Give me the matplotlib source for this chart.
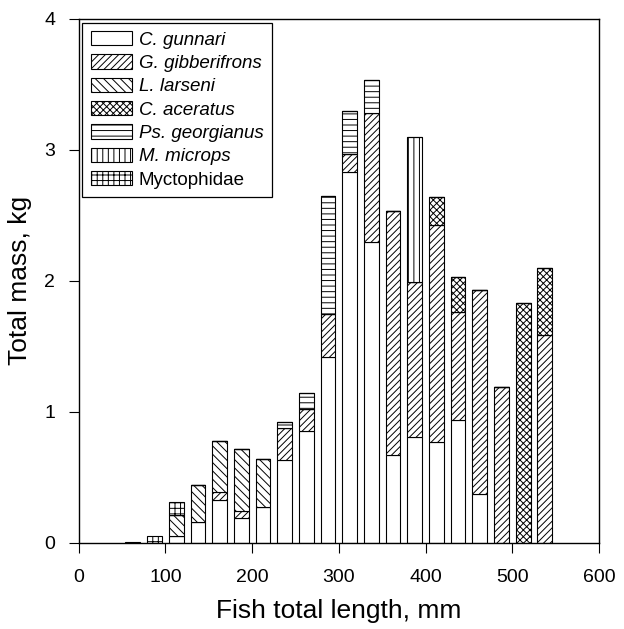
import numpy as np
import matplotlib
matplotlib.use("Agg")
import matplotlib.pyplot as plt

plt.rcParams["font.family"] = ["Liberation Sans", "DejaVu Sans"]
plt.rcParams["hatch.linewidth"] = 0.7

# Length classes (mm, bin centres)
lengths = [62.5, 87.5, 112.5, 137.5, 162.5, 187.5, 212.5, 237.5, 262.5, 287.5,
           312.5, 337.5, 362.5, 387.5, 412.5, 437.5, 462.5, 487.5, 512.5, 537.5]

# Mass per species in each class (kg), stacked bottom to top
c_gunnari = [0, 0, 0.05, 0.16, 0.33, 0.19, 0.27, 0.63, 0.85, 1.42,
             2.83, 2.30, 0.67, 0.81, 0.77, 0.94, 0.37, 0, 0, 0]
g_gibberifrons = [0, 0, 0, 0, 0.06, 0.05, 0, 0.25, 0.17, 0.33,
                  0.14, 0.98, 1.86, 1.18, 1.66, 0.82, 1.56, 1.19, 0, 1.59]
l_larseni = [0, 0, 0.16, 0.28, 0.39, 0.48, 0.37, 0, 0, 0,
             0, 0, 0, 0, 0, 0, 0, 0, 0, 0]
c_aceratus = [0, 0, 0, 0, 0, 0, 0, 0, 0, 0,
              0, 0, 0, 0, 0.21, 0.27, 0, 0, 1.83, 0.51]
ps_georgianus = [0, 0, 0, 0, 0, 0, 0, 0.04, 0.12, 0.90,
                 0.33, 0.25, 0, 0, 0, 0, 0, 0, 0, 0]
m_microps = [0, 0, 0, 0, 0, 0, 0, 0, 0, 0,
             0, 0, 0, 1.11, 0, 0, 0, 0, 0, 0]
myctophidae = [0.01, 0.05, 0.10, 0, 0, 0, 0, 0, 0, 0,
               0, 0, 0, 0, 0, 0, 0, 0, 0, 0]

series = [
    ("C. gunnari", c_gunnari, ""),
    ("G. gibberifrons", g_gibberifrons, "/////"),
    ("L. larseni", l_larseni, "\\\\\\\\"),
    ("C. aceratus", c_aceratus, "xxxxx"),
    ("Ps. georgianus", ps_georgianus, "---"),
    ("M. microps", m_microps, "|||"),
    ("Myctophidae", myctophidae, "+++"),
]

fig = plt.figure(figsize=(6.24, 6.29), dpi=100)
ax = fig.add_axes([0.126, 0.137, 0.834, 0.833])

bottom = np.zeros(len(lengths))
for name, vals, hatch in series:
    vals = np.array(vals, dtype=float)
    ax.bar(lengths, vals, width=17, bottom=bottom, color="white",
           edgecolor="black", linewidth=0.8, hatch=hatch, label=name)
    bottom += vals

ax.set_xlim(0, 600)
ax.set_ylim(0, 4)
ax.set_xticks(range(0, 601, 100))
ax.set_yticks(range(0, 5))
ax.tick_params(direction="out", length=7, width=0.8, labelsize=14, pad=10)
ax.tick_params(axis="x", pad=12)
ax.set_xlabel("Fish total length, mm", fontsize=19, labelpad=9)
ax.set_ylabel("Total mass, kg", fontsize=19, labelpad=9)
for s in ax.spines.values():
    s.set_linewidth(1.0)

leg = ax.legend(loc="upper left", fontsize=13.5, frameon=True, fancybox=False,
                edgecolor="black", framealpha=1, handlelength=2.2,
                handleheight=0.8, labelspacing=0.3, borderaxespad=0.2,
                handletextpad=0.35, borderpad=0.45)
leg.get_frame().set_linewidth(0.9)
for t in leg.get_texts()[:6]:
    t.set_style("italic")

fig.savefig("out.png", dpi=100)
